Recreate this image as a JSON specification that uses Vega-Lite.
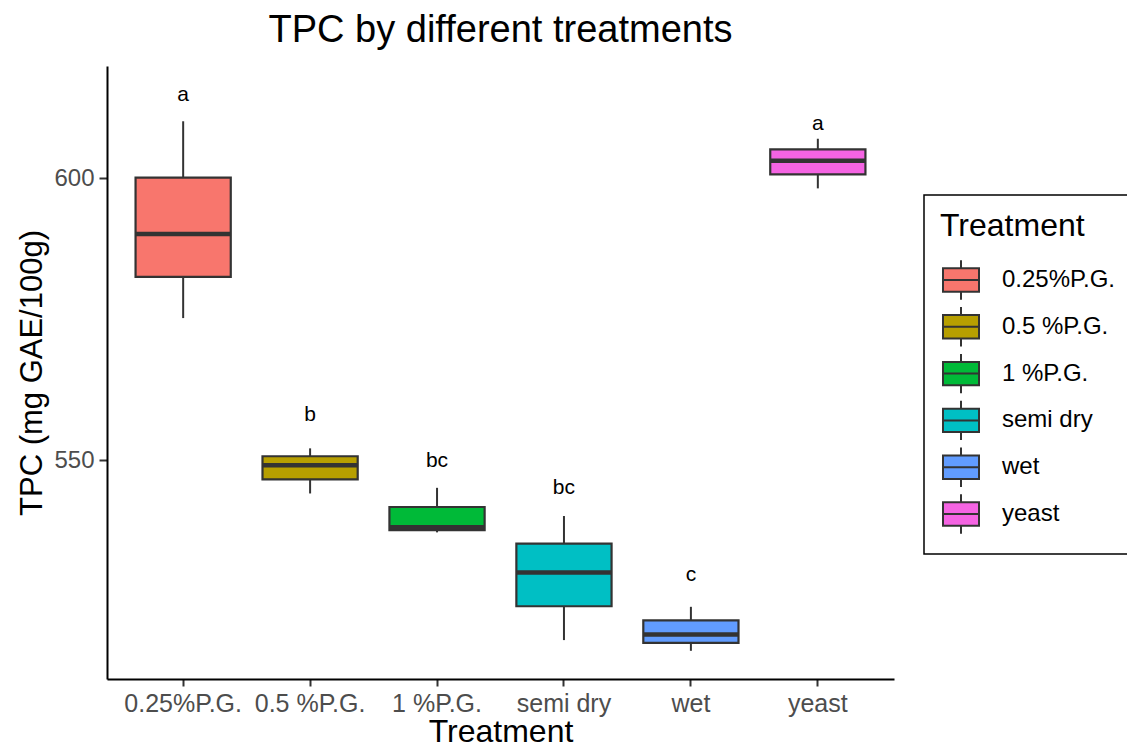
{
  "$schema": "https://vega.github.io/schema/vega-lite/v6.json",
  "width": 787,
  "height": 613,
  "autosize": {"type": "none"},
  "padding": {"left": 107, "top": 66, "right": 233, "bottom": 70},
  "background": "white",
  "title": {
    "text": "TPC by different treatments",
    "font": "Liberation Sans",
    "fontSize": 38,
    "fontWeight": "normal",
    "color": "#000000",
    "anchor": "middle",
    "frame": "group",
    "baseline": "alphabetic",
    "offset": 23,
    "dy": 37
  },
  "data": {
    "values": [
      {"Treatment": "0.25%P.G.", "lower": 575.2, "q1": 582.5, "median": 590.1, "q3": 600.1, "upper": 610.1, "letter": "a", "letter_y": 614.7},
      {"Treatment": "0.5 %P.G.", "lower": 544.1, "q1": 546.6, "median": 549.1, "q3": 550.7, "upper": 552.1, "letter": "b", "letter_y": 558.0},
      {"Treatment": "1 %P.G.", "lower": 537.2, "q1": 537.6, "median": 538.1, "q3": 541.7, "upper": 545.1, "letter": "bc", "letter_y": 549.8},
      {"Treatment": "semi dry", "lower": 518.1, "q1": 524.1, "median": 530.1, "q3": 535.2, "upper": 540.1, "letter": "bc", "letter_y": 545.0},
      {"Treatment": "wet", "lower": 516.2, "q1": 517.6, "median": 519.1, "q3": 521.6, "upper": 524.0, "letter": "c", "letter_y": 529.6},
      {"Treatment": "yeast", "lower": 598.2, "q1": 600.7, "median": 603.1, "q3": 605.1, "upper": 607.0, "letter": "a", "letter_y": 609.7}
    ]
  },
  "encoding": {
    "x": {
      "field": "Treatment",
      "type": "nominal",
      "sort": null,
      "scale": {"paddingInner": 0.25, "paddingOuter": 0.225},
      "axis": {
        "title": "Treatment",
        "labelAngle": 0,
        "labelOverlap": false,
        "labelBound": false,
        "labelFont": "Liberation Sans",
        "labelFontSize": 25,
        "labelColor": "#4D4D4D",
        "labelPadding": 5,
        "titleFont": "Liberation Sans",
        "titleFontSize": 32,
        "titleFontWeight": "normal",
        "titleColor": "#000000",
        "titlePadding": 0,
        "domainColor": "#000000",
        "domainWidth": 2,
        "tickColor": "#333333",
        "tickWidth": 2,
        "tickSize": 7,
        "grid": false
      }
    }
  },
  "layer": [
    {
      "mark": {"type": "rule", "color": "#333333", "strokeWidth": 2},
      "encoding": {
        "y": {
          "field": "lower",
          "type": "quantitative",
          "scale": {"domain": [511.2, 619.9], "nice": false, "zero": false},
          "axis": {
            "title": "TPC (mg GAE/100g)",
            "values": [550, 600],
            "grid": false,
            "labelFont": "Liberation Sans",
            "labelFontSize": 24,
            "labelColor": "#4D4D4D",
            "labelPadding": 5,
            "titleFont": "Liberation Sans",
            "titleFontSize": 31,
            "titleFontWeight": "normal",
            "titleColor": "#000000",
            "titlePadding": 5,
            "domainColor": "#000000",
            "domainWidth": 2,
            "tickColor": "#333333",
            "tickWidth": 2,
            "tickSize": 8
          }
        },
        "y2": {"field": "upper"}
      }
    },
    {
      "mark": {"type": "bar", "stroke": "#333333", "strokeWidth": 2.2, "opacity": 1},
      "encoding": {
        "y": {"field": "q1", "type": "quantitative"},
        "y2": {"field": "q3"},
        "color": {
          "field": "Treatment",
          "type": "nominal",
          "sort": null,
          "scale": {
            "domain": ["0.25%P.G.", "0.5 %P.G.", "1 %P.G.", "semi dry", "wet", "yeast"],
            "range": ["#F8766D", "#B79F00", "#00BA38", "#00BFC4", "#619CFF", "#F564E3"]
          },
          "legend": {
            "title": "Treatment",
            "orient": "none",
            "legendX": 817,
            "legendY": 129,
            "padding": 16,
            "strokeColor": "#000000",
            "fillColor": "#FFFFFF",
            "titleFont": "Liberation Sans",
            "titleFontSize": 32,
            "titleFontWeight": "normal",
            "titleColor": "#000000",
            "titleBaseline": "top",
            "titlePadding": 16,
            "labelFont": "Liberation Sans",
            "labelFontSize": 24,
            "labelColor": "#000000",
            "labelOffset": 20,
            "symbolType": "M-0.9,-0.585H0.9V0.585H-0.9Z M-0.9,0H0.9 M0,-0.585V-0.985 M0,0.585V0.985",
            "symbolSize": 1600,
            "symbolStrokeColor": "#333333",
            "symbolStrokeWidth": 2,
            "symbolOpacity": 1,
            "rowPadding": -1.2,
            "encode": {
              "legend": {"update": {"strokeWidth": {"value": 1.5}}}
            }
          }
        }
      }
    },
    {
      "mark": {"type": "tick", "color": "#333333", "thickness": 4.5, "size": 95.2, "opacity": 1},
      "encoding": {
        "y": {"field": "median", "type": "quantitative"}
      }
    },
    {
      "mark": {"type": "text", "font": "Liberation Sans", "fontSize": 21, "color": "#000000", "baseline": "middle", "align": "center"},
      "encoding": {
        "y": {"field": "letter_y", "type": "quantitative"},
        "text": {"field": "letter"}
      }
    }
  ],
  "config": {
    "view": {"stroke": null}
  }
}
